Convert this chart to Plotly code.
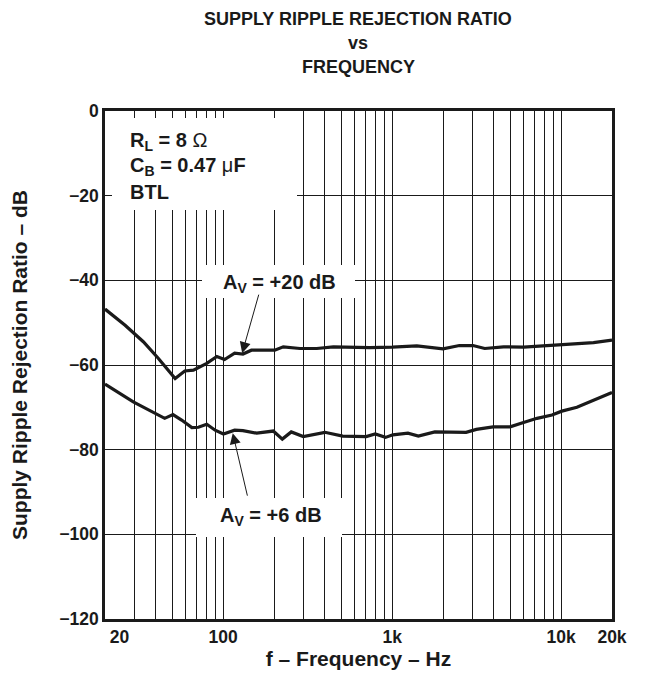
import math
import plotly.graph_objects as go

# ---------------- data ----------------
freq_20db = [20, 26.3, 33.7, 41.3, 52, 59.3, 66.7, 80, 91.8, 102, 117, 131, 147, 181, 202, 227,
             285, 358, 449, 737, 1000, 1400, 2000, 2500, 3010, 3530, 4560, 6000, 9000, 11250,
             15540, 20000]
srr_20db = [-46.8, -50.6, -54.5, -58.4, -63.2, -61.4, -61.2, -59.6, -58.0, -58.7, -57.2, -57.4,
            -56.5, -56.6, -56.5, -55.7, -56.1, -56.1, -55.7, -55.9, -55.8, -55.5, -56.2, -55.4,
            -55.4, -56.1, -55.7, -55.8, -55.4, -55.2, -54.7, -54.1]

freq_6db = [20, 29.4, 45.1, 50.5, 56.8, 65.3, 71.4, 80, 89.7, 100.4, 117, 131, 158, 198, 224, 253,
            298, 400, 510, 702, 794, 914, 1010, 1240, 1430, 1790, 2740, 3150, 3960, 4990, 5990,
            7200, 8830, 10100, 12400, 15600, 20000]
srr_6db = [-64.5, -68.7, -72.6, -71.7, -73.0, -74.8, -74.7, -74.0, -75.4, -76.3, -75.4, -75.5,
           -76.1, -75.6, -77.5, -75.8, -76.9, -75.9, -76.8, -76.9, -76.3, -77.1, -76.5, -76.1,
           -76.8, -75.8, -75.9, -75.2, -74.6, -74.6, -73.6, -72.6, -71.8, -70.9, -70.0, -68.4,
           -66.5]

x_grid = [20, 30, 40, 50, 60, 70, 80, 90, 100, 200, 300, 400, 500, 600, 700, 800, 900,
          1000, 2000, 3000, 4000, 5000, 6000, 7000, 8000, 9000, 10000, 20000]
x_labels = {20: "\u00a0\u00a0\u00a0\u00a0\u00a0\u00a020", 100: "100", 1000: "1k",
            10000: "10k", 20000: "20k"}
y_ticks = [0, -20, -40, -60, -80, -100, -120]
y_labels = ["0", "\u221220", "\u221240", "\u221260", "\u221280", "\u2212100", "\u2212120"]

title_lines = ["SUPPLY RIPPLE REJECTION RATIO", "vs", "FREQUENCY"]
cond_lines = ["R<sub>L</sub> = 8 <span style='font-weight:normal'>\u03a9</span>",
              "C<sub>B</sub> = 0.47 <span style='font-weight:normal'>\u03bc</span>F", "BTL"]
label_20 = "A<sub>V</sub> = +20 dB"
label_6 = "A<sub>V</sub> = +6 dB"
arrow_20_at = (129.6, -57.2)
arrow_6_at = (114, -76.1)

# ---------------- layout geometry ----------------
W, H = 654, 681
L, R, T, B = 105, 612, 111, 619
FONT = "Liberation Sans"
INK = "#1a1a1a"


def px(x):
    return (x - L) / (R - L)


def py(y):
    return (B - y) / (B - T)


def bold(size):
    return dict(family=FONT, size=size, color=INK, weight="bold")


fig = go.Figure()
for fx, fy in [(freq_20db, srr_20db), (freq_6db, srr_6db)]:
    fig.add_trace(go.Scatter(x=fx, y=fy, mode="lines",
                             line=dict(color=INK, width=3.2), showlegend=False,
                             hoverinfo="skip"))

shapes = []
for (x0, y0, x1, y1) in [(112, 118, 297, 210), (202, 265, 355, 298), (196, 498, 342, 537)]:
    shapes.append(dict(type="rect", xref="paper", yref="paper", x0=px(x0), x1=px(x1),
                       y0=py(y1), y1=py(y0), fillcolor="white", line=dict(width=0),
                       layer="above"))

annotations = []
for i, t in enumerate(title_lines):
    annotations.append(dict(text=t, xref="paper", yref="paper", x=px(358), y=py(19 + 24 * i),
                            xanchor="center", yanchor="middle", showarrow=False,
                            font=bold(18)))
for i, t in enumerate(cond_lines):
    annotations.append(dict(text=t, xref="paper", yref="paper", x=px(128), y=py(141 + 25.5 * i),
                            xanchor="left", yanchor="middle", showarrow=False,
                            font=bold(20)))
annotations.append(dict(text=label_20, xref="paper", yref="paper", x=px(279), y=py(283),
                        xanchor="center", yanchor="middle", showarrow=False,
                        font=bold(20)))
annotations.append(dict(text=label_6, xref="paper", yref="paper", x=px(271), y=py(516),
                        xanchor="center", yanchor="middle", showarrow=False,
                        font=bold(20)))
annotations.append(dict(text="", x=math.log10(arrow_20_at[0]), y=arrow_20_at[1], xref="x", yref="y",
                        ax=17, ay=-60, showarrow=True, arrowhead=2, arrowsize=2.2,
                        arrowwidth=1, arrowcolor=INK, standoff=0))
annotations.append(dict(text="", x=math.log10(arrow_6_at[0]), y=arrow_6_at[1], xref="x", yref="y",
                        ax=15, ay=64, showarrow=True, arrowhead=2, arrowsize=2.2,
                        arrowwidth=1, arrowcolor=INK, standoff=0))

fig.update_layout(
    width=W, height=H,
    margin=dict(l=L, r=W - R, t=T, b=H - B, autoexpand=False),
    paper_bgcolor="white", plot_bgcolor="white",
    shapes=shapes, annotations=annotations,
    font=dict(family=FONT, color=INK),
)
fig.update_xaxes(
    type="log", range=[math.log10(20), math.log10(20000)],
    tickvals=x_grid, ticktext=[x_labels.get(v, "") for v in x_grid],
    showgrid=True, gridcolor=INK, gridwidth=1,
    showline=True, linecolor=INK, linewidth=2.5, mirror=True,
    ticks="", ticklabelstandoff=0, zeroline=False,
    tickfont=bold(17.5),
    title=dict(text="f \u2013 Frequency \u2013 Hz", standoff=5, font=bold(21)),
)
fig.update_yaxes(
    range=[-120, 0], tickvals=y_ticks, ticktext=y_labels,
    showgrid=True, gridcolor=INK, gridwidth=1, zeroline=False,
    showline=True, linecolor=INK, linewidth=2.5, mirror=True,
    ticks="", ticklabelstandoff=0,
    tickfont=bold(17.5),
    title=dict(text="Supply Ripple Rejection Ratio \u2013 dB", standoff=26, font=bold(21)),
)

fig.write_html("out.html", config={"displayModeBar": False},
               post_script="document.body.style.margin='0';document.body.style.padding='0';")
